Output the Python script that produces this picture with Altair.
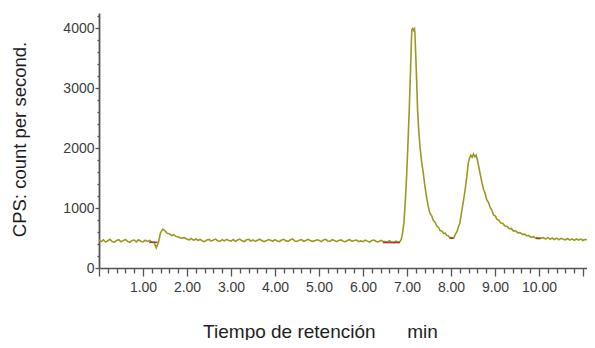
import altair as alt
import numpy as np
import pandas as pd

# ---- data ----
# baseline section, sampled every 0.05 min from 0.00 to 6.80
base_t = np.round(np.arange(0, 6.8001, 0.05), 2)
base_v = [
    462, 440, 470, 432, 455, 478, 441, 430, 460, 472,
    438, 456, 475, 444, 428, 458, 466, 436, 470, 447,
    434, 462, 442, 458, 430, 428, 335, 425, 590, 648,
    618, 580, 570, 540, 556, 525, 520, 500, 498, 506,
    478, 470, 492, 462, 484, 460, 476, 450, 440, 468,
    476, 448, 466, 482, 455, 445, 472, 452, 478, 460,
    448, 474, 444, 466, 482, 452, 440, 470, 478, 450,
    468, 444, 462, 480, 458, 440, 452, 474, 462, 446,
    472, 450, 440, 466, 478, 452, 444, 470, 484, 450,
    442, 464, 474, 446, 460, 478, 458, 444, 452, 470,
    462, 440, 466, 478, 450, 444, 472, 458, 440, 460,
    468, 446, 438, 462, 472, 444, 460, 466, 440, 452,
    440, 464, 448, 432, 458, 466, 442, 436, 460, 446,
    440, 430, 456, 432, 424, 446, 430,
]

# peak section (irregular times)
peak_t = [
    6.84, 6.87, 6.90, 6.93, 6.96, 6.99, 7.02, 7.05, 7.08, 7.10,
    7.11, 7.13, 7.15, 7.17, 7.18, 7.20, 7.22, 7.24, 7.27, 7.30,
    7.33, 7.37, 7.40, 7.44, 7.48, 7.52, 7.56, 7.60, 7.64, 7.68,
    7.72, 7.75, 7.79, 7.83, 7.87, 7.90, 7.94, 7.98, 8.02, 8.06,
    8.10, 8.14, 8.17, 8.20, 8.24, 8.28, 8.32, 8.36, 8.39, 8.42,
    8.45, 8.48, 8.51, 8.54, 8.57, 8.60, 8.63, 8.66, 8.70, 8.74,
    8.77, 8.81, 8.85, 8.89, 8.93, 8.97, 9.01, 9.04, 9.08, 9.13,
    9.18, 9.22, 9.27, 9.32, 9.37, 9.42, 9.47, 9.52, 9.57, 9.62,
    9.67, 9.72, 9.77, 9.82, 9.87, 9.92, 9.96, 10.00, 10.05,
]
peak_v = [
    440, 478, 585, 760, 1100, 1520, 2050, 2630, 3300, 3800,
    3970, 3990, 3960, 3985, 3900, 3500, 3100, 2630, 2250, 1980,
    1780, 1580, 1400, 1200, 1035, 915, 870, 790, 760, 700,
    672, 625, 618, 575, 582, 545, 535, 498, 505, 495,
    565, 612, 690, 745, 930, 1110, 1300, 1530, 1745, 1830,
    1880, 1845, 1900, 1855, 1880, 1800, 1690, 1578, 1430, 1305,
    1255, 1140, 1095, 1010, 960, 880, 865, 815, 800, 750,
    742, 700, 695, 655, 660, 615, 620, 585, 590, 560,
    565, 538, 540, 512, 522, 498, 505, 490, 500,
]

# tail section, sampled every 0.05 min from 10.10 to 11.10
tail_t = np.round(np.arange(10.10, 11.1001, 0.05), 2)
tail_v = [
    505, 482, 510, 480, 500, 476, 498, 472, 495, 478,
    470, 492, 466, 486, 462, 484, 466, 482, 458, 478,
    464,
]

# red baseline markers
red_start = [1.14, 6.45, 7.97, 9.93]
red_end = [1.33, 6.84, 8.05, 10.04]
red_level = [428, 424, 497, 494]

# axis ticks
x_ticks = [round(0.2 * i, 1) for i in range(56)]
y_ticks = [200 * i for i in range(22)]

df = pd.DataFrame({
    "t": list(base_t) + peak_t + list(tail_t),
    "cps": base_v + peak_v + tail_v,
})
dfr = pd.DataFrame({"t0": red_start, "t1": red_end, "v": red_level})

FONT = "Liberation Sans, Arial"

xscale = alt.Scale(domain=[0, 11.09], nice=False, zero=False)
yscale = alt.Scale(domain=[0, 4250], nice=False)

xaxis = alt.Axis(
    values=x_ticks,
    labelExpr="datum.value >= 0.99 && datum.value <= 10.01 && abs(datum.value - round(datum.value)) < 0.01 ? format(datum.value, '.2f') : ''",
    tickSize={"condition": {"test": "abs(datum.value - round(datum.value)) < 0.01", "value": 8}, "value": 5},
    labelPadding=4,
    labelOverlap=False,
    labelFlush=False,
    labelFont=FONT,
    labelFontSize=14,
    labelColor="#3c3c3c",
    labelBaseline="top",
    domainColor="#555555",
    domainWidth=1.5,
    tickColor="#555555",
    tickWidth=1.3,
    grid=False,
    title="Tiempo de retención" + "\u00a0" * 6 + "min",
    titleFont=FONT,
    titleFontSize=19,
    titleFontWeight="normal",
    titleColor="#1e1e1e",
    titleX=221,
    titleY=69,
    titleAlign="center",
    titleBaseline="alphabetic",
    titleAnchor="start",
)

yaxis = alt.Axis(
    values=y_ticks,
    labelExpr="datum.value % 1000 === 0 ? format(datum.value, 'd') : ''",
    tickSize={"condition": {"test": "datum.value % 1000 === 0", "value": 4}, "value": 2},
    labelPadding=1,
    labelOverlap=False,
    labelFlush=False,
    labelFont=FONT,
    labelFontSize=14,
    labelColor="#3c3c3c",
    labelBaseline="middle",
    domainColor="#555555",
    domainWidth=1.8,
    tickColor="#555555",
    tickWidth=1.3,
    grid=False,
    title="CPS: count per second.",
    titleFont=FONT,
    titleFontSize=18.5,
    titleFontWeight="normal",
    titleColor="#1e1e1e",
    titleAngle=270,
    titleX=-74,
    titleY=126,
    titleAlign="center",
    titleBaseline="alphabetic",
    titleAnchor="start",
)

line = alt.Chart(df).mark_line(color="#9a9a22", strokeWidth=1.6, interpolate="linear").encode(
    x=alt.X("t:Q", scale=xscale, axis=xaxis),
    y=alt.Y("cps:Q", scale=yscale, axis=yaxis),
    order=alt.Order("t:Q"),
)

red = alt.Chart(dfr).mark_rule(color="#b03a2e", strokeWidth=1.6).encode(
    x=alt.X("t0:Q", scale=xscale, axis=xaxis),
    x2="t1:Q",
    y=alt.Y("v:Q", scale=yscale, axis=yaxis),
)

chart = alt.layer(line, red).properties(
    width=488,
    height=255,
    autosize=alt.AutoSizeParams(type="none"),
    padding={"left": 91, "top": 5, "right": 0, "bottom": 72},
    background="white",
).configure_view(stroke=None)

chart.save("out.html", embed_options={"renderer": "svg", "actions": False})
